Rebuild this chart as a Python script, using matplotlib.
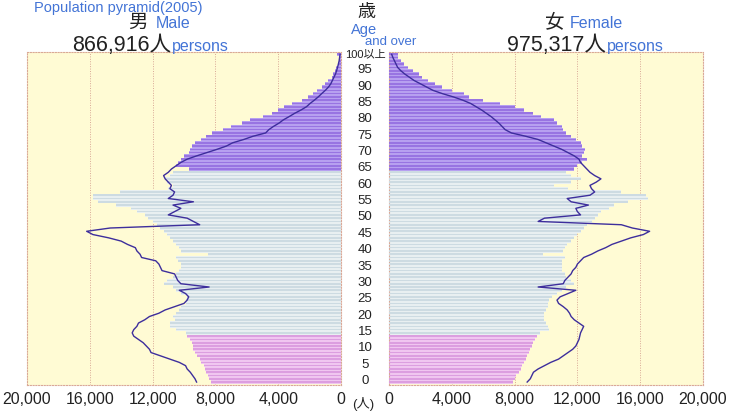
import matplotlib
matplotlib.use("Agg")
import matplotlib.pyplot as plt
import numpy as np

plt.rcParams['font.family'] = ['Liberation Sans', 'Noto Sans CJK JP', 'DejaVu Sans']

ages = list(range(0, 101))
age_labels = ['0', '5', '10', '15', '20', '25', '30', '35', '40', '45',
              '50', '55', '60', '65', '70', '75', '80', '85', '90', '95', '100以上']

# 2005 bars (persons), ages 0..100+
male = [8300, 8400, 8500, 8600, 8650, 8700, 8900, 9000, 9200, 9300,
        9400, 9450, 9500, 9600, 9800, 9900, 10500, 10900, 10900, 10600,
        10700, 10500, 10300, 10200, 9900, 9900, 9800, 10200, 10500, 10700,
        11300, 11100, 10700, 10500, 10300, 10200, 10200, 10400, 10500, 8450,
        10200, 10300, 10500, 10700, 10900, 11100, 11300, 11500, 11700, 11950,
        12300, 12500, 13000, 13400, 14300, 15500, 15800, 15800, 14100, 11000,
        10700, 11100, 11200, 10900, 10700, 9700, 10500, 10400, 10200, 10000,
        9700, 9600, 9500, 9300, 8900, 8600, 8200, 7500, 7000, 6300,
        5800, 5000, 4400, 4000, 3600, 3100, 2500, 2100, 1800, 1500,
        1200, 1000, 800, 600, 500, 400, 300, 220, 150, 100, 250]
female = [7900, 8000, 8100, 8300, 8400, 8500, 8600, 8700, 8800, 8900,
          9000, 9100, 9200, 9300, 9400, 9600, 10200, 10100, 10000, 9900,
          9900, 9900, 10000, 10100, 10100, 10200, 10400, 10700, 11000, 11300,
          11800, 11600, 11300, 11200, 11000, 11000, 11000, 11000, 11200, 9800,
          11100, 11200, 11350, 11600, 11800, 12000, 12200, 12400, 12600, 12900,
          13100, 13300, 13500, 14000, 14300, 15200, 16500, 16400, 14800, 11400,
          10500, 11600, 12200, 11600, 11300, 11800, 12000, 12300, 12600, 12300,
          12400, 12500, 12300, 12200, 11900, 11600, 11300, 11100, 11000, 10700,
          10500, 9700, 9200, 8600, 8000, 7100, 6000, 5100, 4800, 4000,
          3400, 2900, 2500, 2100, 1900, 1550, 1200, 950, 750, 550, 600]

# comparison line (persons), ages 0..100
male_line = [9200, 9300, 9450, 9600, 9800, 9900, 10300, 10900, 11500, 12100,
             12200, 12400, 12600, 12900, 13200, 13300, 13200, 13000, 12900, 12500,
             12200, 11600, 11200, 10600, 10000, 9800, 9700, 9900, 10300, 8400,
             10200, 10400, 10500, 10600, 11400, 11500, 11600, 11800, 12700, 12800,
             13000, 13100, 13600, 14000, 14800, 15800, 16200, 14700, 9000, 9400,
             9800, 11000, 10600, 10200, 10700, 9400, 11000, 10700, 10600, 10900,
             10800, 11000, 11200, 11300, 11000, 10800, 10500, 10200, 9800, 9200,
             8550, 7900, 7300, 6900, 6200, 5600, 4800, 4600, 4300, 3950,
             3670, 3300, 2950, 2550, 2200, 1970, 1700, 1450, 1230, 1000,
             800, 650, 550, 450, 350, 280, 220, 170, 120, 90, 60]
female_line = [8800, 9000, 9100, 9200, 9500, 9900, 10300, 10800, 11100, 11400,
               11700, 11900, 12000, 12100, 12150, 12200, 12300, 12400, 12100, 11800,
               11600, 11500, 11350, 11100, 10800, 10700, 10900, 11400, 11900, 9500,
               11100, 11200, 11400, 11600, 11700, 11900, 12000, 12200, 12400, 12900,
               13300, 13800, 14200, 14800, 15400, 16200, 16600, 15500, 14800, 9500,
               9900, 12200, 12000, 11900, 12700, 11600, 11350, 12800, 13100, 12900,
               12800, 13200, 13500, 13100, 12800, 12600, 12400, 12200, 12100, 11800,
               11400, 11000, 10500, 10000, 9500, 8700, 7800, 7400, 7200, 7000,
               6750, 6500, 6200, 5900, 5550, 5200, 4700, 4100, 3400, 2800,
               2400, 2000, 1600, 1300, 1000, 750, 550, 450, 350, 250, 170]

x_ticks = [0, 4000, 8000, 12000, 16000, 20000]
x_tick_labels = ['0', '4,000', '8,000', '12,000', '16,000', '20,000']

# styling
BG = '#fffbd4'
GRID = '#d9a896'
LINE = '#3d2e9c'
BLUE_TXT = '#4374d6'

def group_colors(a):
    if a < 15:
        return '#f0c6f0', '#dc9ee0'
    if a < 65:
        return '#e8eff1', '#cddbe2'
    return '#b7a0f0', '#9874e2'

base_cols = [group_colors(a)[0] for a in ages]
strp_cols = [group_colors(a)[1] for a in ages]

W, H = 733, 417
fig = plt.figure(figsize=(W / 100, H / 100), dpi=100)
fig.patch.set_facecolor('white')

def px_axes(x0, y0, x1, y1):
    return fig.add_axes([x0 / W, 1 - y1 / H, (x1 - x0) / W, (y1 - y0) / H])

axL = px_axes(27, 52, 341, 385)
axR = px_axes(389, 52, 703, 385)

for ax, vals, line in ((axL, male, male_line), (axR, female, female_line)):
    ax.set_facecolor(BG)
    ax.barh(ages, vals, height=1.0, color=base_cols, linewidth=0, zorder=2)
    ax.barh(ages, vals, height=0.5, color=strp_cols, linewidth=0, zorder=3)
    ax.plot(line, ages, color=LINE, lw=1.0, zorder=5)
    ax.set_xlim(0, 20000)
    ax.set_ylim(-0.9, 100.7)
    ax.set_xticks(x_ticks)
    ax.set_xticklabels(x_tick_labels, fontsize=11.5, color='#222222')
    ax.set_yticks([])
    ax.tick_params(axis='x', length=0, pad=5)
    for xv in x_ticks[1:-1]:
        ax.axvline(xv, color=GRID, lw=0.7, ls=(0, (1, 1.5)), zorder=1)
    for sp in ax.spines.values():
        sp.set_color(GRID)
        sp.set_linewidth(0.8)
        sp.set_linestyle((0, (1, 1.5)))

axL.invert_xaxis()

# age labels in the middle
for i, lab in enumerate(age_labels):
    a = i * 5
    y_px = 381 - 3.27 * a
    fs = 8 if lab == '100以上' else 9.5
    fig.text(365 / W, 1 - y_px / H, lab, ha='center', va='center', fontsize=fs,
             color='#222222', family=['Liberation Sans', 'Noto Sans CJK JP'])

def t(x, y, s, **kw):
    kw.setdefault('family', ['Liberation Sans', 'Noto Sans CJK JP'])
    return fig.text(x / W, 1 - y / H, s, **kw)

# headings
t(34, 1, 'Population pyramid(2005)', fontsize=10.5, color=BLUE_TXT, ha='left', va='top')
t(148, 23, '男', fontsize=14, color='#222222', ha='right', va='center')
t(156, 24, 'Male', fontsize=11.5, color=BLUE_TXT, ha='left', va='center')
t(171, 45, '866,916人', fontsize=15.5, color='#222222', ha='right', va='center')
t(172, 47, 'persons', fontsize=11.5, color=BLUE_TXT, ha='left', va='center')

t(564, 22, '女', fontsize=14, color='#222222', ha='right', va='center')
t(570, 23, 'Female', fontsize=11.5, color=BLUE_TXT, ha='left', va='center')
t(606, 45, '975,317人', fontsize=15.5, color='#222222', ha='right', va='center')
t(607, 47, 'persons', fontsize=11.5, color=BLUE_TXT, ha='left', va='center')

t(366, 12, '歳', fontsize=13, color='#222222', ha='center', va='center')
t(364, 30, 'Age', fontsize=10.5, color=BLUE_TXT, ha='center', va='center')
t(391, 42, 'and over', fontsize=9.5, color=BLUE_TXT, ha='center', va='center')

t(363, 404, '(人)', fontsize=9.5, color='#222222', ha='center', va='center')

fig.savefig('out.png', dpi=100, facecolor='white')
